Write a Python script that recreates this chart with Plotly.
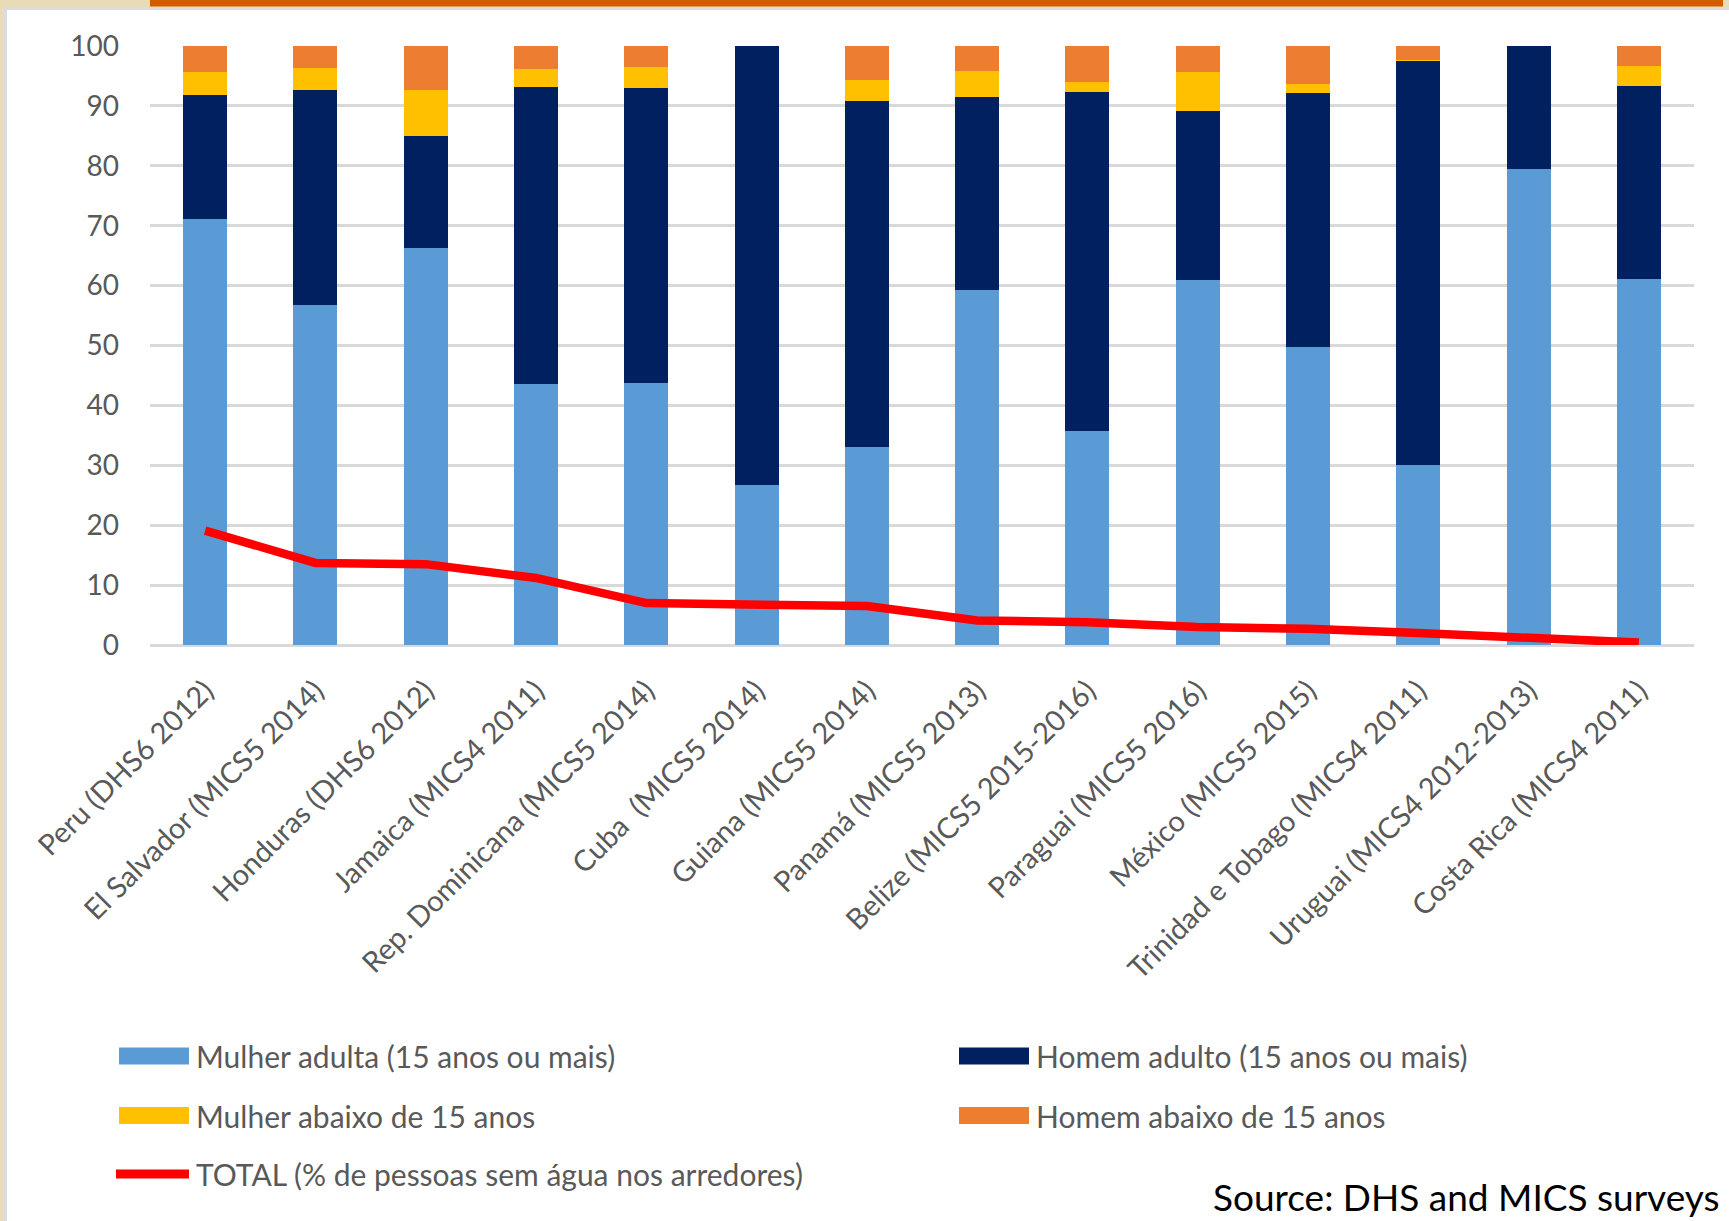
import plotly.graph_objects as go

# ---------------- data ----------------
categories = [
    "Peru (DHS6 2012)", "El Salvador (MICS5 2014)", "Honduras (DHS6 2012)",
    "Jamaica (MICS4 2011)", "Rep. Dominicana (MICS5 2014)", "Cuba \u00a0(MICS5 2014)",
    "Guiana (MICS5 2014)", "Panamá (MICS5 2013)", "Belize (MICS5 2015-2016)",
    "Paraguai (MICS5 2016)", "México (MICS5 2015)", "Trinidad e Tobago (MICS4 2011)",
    "Uruguai (MICS4 2012-2013)", "Costa Rica (MICS4 2011)",
]
mulher_adulta = [71.2, 56.7, 66.2, 43.6, 43.8, 26.7, 33.1, 59.3, 35.8, 61.0, 49.7, 30.0, 79.4, 61.1]
homem_adulto = [20.6, 36.0, 18.7, 49.6, 49.2, 73.3, 57.7, 32.2, 56.6, 28.2, 42.4, 67.6, 20.6, 32.2]
mulher_abaixo = [3.8, 3.7, 7.8, 3.0, 3.5, 0.0, 3.5, 4.4, 1.6, 6.4, 1.5, 0.1, 0.0, 3.4]
homem_abaixo = [4.4, 3.6, 7.3, 3.8, 3.5, 0.0, 5.7, 4.1, 6.0, 4.4, 6.4, 2.3, 0.0, 3.3]
total = [19.1, 13.7, 13.5, 11.2, 7.0, 6.7, 6.5, 4.1, 3.8, 3.0, 2.7, 2.0, 1.2, 0.4]

series_names = [
    "Mulher adulta (15 anos ou mais)", "Homem adulto (15 anos ou mais)",
    "Mulher abaixo de 15 anos", "Homem abaixo de 15 anos",
    "TOTAL (% de pessoas sem água nos arredores)",
]
y_ticks = [0, 10, 20, 30, 40, 50, 60, 70, 80, 90, 100]
source_text = "Source: DHS and MICS surveys"

# ---------------- style ----------------
W, H = 1729, 1221
PL, PR, PT, PB = 150, 1694, 46, 645
C_LIGHT, C_NAVY, C_YEL, C_ORA, C_RED = "#5B9BD5", "#002060", "#FFC000", "#ED7D31", "#FF0000"
TXT = "#595959"
FONT = "Lato"


def px2x(px):
    return (px - PL) / (PR - PL)


def py2y(py):
    return (PB - py) / (PB - PT)


fig = go.Figure()
bar_series = [(mulher_adulta, C_LIGHT), (homem_adulto, C_NAVY), (mulher_abaixo, C_YEL), (homem_abaixo, C_ORA)]
for (vals, col), name in zip(bar_series, series_names[:4]):
    fig.add_trace(go.Bar(x=categories, y=vals, name=name, marker=dict(color=col, line=dict(width=0)),
                         showlegend=False))
fig.add_trace(go.Scatter(x=categories, y=total, name=series_names[4], mode="lines",
                         line=dict(color=C_RED, width=8.5), showlegend=False))

shapes = []
# page background (white panel, border, orange top strip)
shapes.append(dict(type="rect", xref="paper", yref="paper", layer="below",
                   x0=px2x(5.5), x1=px2x(1740), y0=py2y(8.5), y1=py2y(1240),
                   fillcolor="white", line=dict(color="#DCDCDC", width=3)))
shapes.append(dict(type="rect", xref="paper", yref="paper", layer="above",
                   x0=px2x(150), x1=px2x(1723), y0=py2y(0), y1=py2y(6.5),
                   fillcolor="#D45A00", line=dict(width=0)))

annotations = []
# custom legend
legend_items = [
    (series_names[0], C_LIGHT, 119, 1056, "rect"),
    (series_names[1], C_NAVY, 959, 1056, "rect"),
    (series_names[2], C_YEL, 119, 1115.5, "rect"),
    (series_names[3], C_ORA, 959, 1115.5, "rect"),
    (series_names[4], C_RED, 116, 1174, "line"),
]
for name, col, x0, yc, kind in legend_items:
    if kind == "rect":
        shapes.append(dict(type="rect", xref="paper", yref="paper",
                           x0=px2x(x0), x1=px2x(x0 + 70), y0=py2y(yc - 8.5), y1=py2y(yc + 8.5),
                           fillcolor=col, line=dict(width=0)))
        tx = x0 + 75
    else:
        shapes.append(dict(type="line", xref="paper", yref="paper",
                           x0=px2x(x0), x1=px2x(x0 + 73), y0=py2y(yc), y1=py2y(yc),
                           line=dict(color=col, width=9)))
        tx = x0 + 78
    annotations.append(dict(text=name, xref="paper", yref="paper", x=px2x(tx), y=py2y(yc),
                            xanchor="left", yanchor="middle", showarrow=False,
                            font=dict(family=FONT, size=30, color=TXT)))

annotations.append(dict(text=source_text, xref="paper", yref="paper", x=px2x(1722), y=py2y(1221),
                        xanchor="right", yanchor="bottom", showarrow=False,
                        font=dict(family=FONT, size=37, color="black")))

fig.update_layout(
    width=W, height=H,
    margin=dict(l=PL, r=W - PR, t=PT, b=H - PB, pad=0),
    barmode="stack", bargap=0.6,
    paper_bgcolor="#E9DBB5", plot_bgcolor="white",
    shapes=shapes, annotations=annotations,
    showlegend=False,
    xaxis=dict(type="category", tickangle=-45, showgrid=False, showline=False, ticks="",
               tickfont=dict(family=FONT, size=29, color=TXT), ticklabelstandoff=22,
               automargin=False, fixedrange=True),
    yaxis=dict(range=[0, 100], tickvals=y_ticks, showgrid=True, gridcolor="#D9D9D9", gridwidth=2.5,
               zeroline=True, zerolinecolor="#D9D9D9", zerolinewidth=2.5, showline=False, ticks="",
               tickfont=dict(family=FONT, size=28, color=TXT), ticklabelstandoff=30,
               automargin=False, fixedrange=True),
)

fig.write_html("out.html", config={"displayModeBar": False})
